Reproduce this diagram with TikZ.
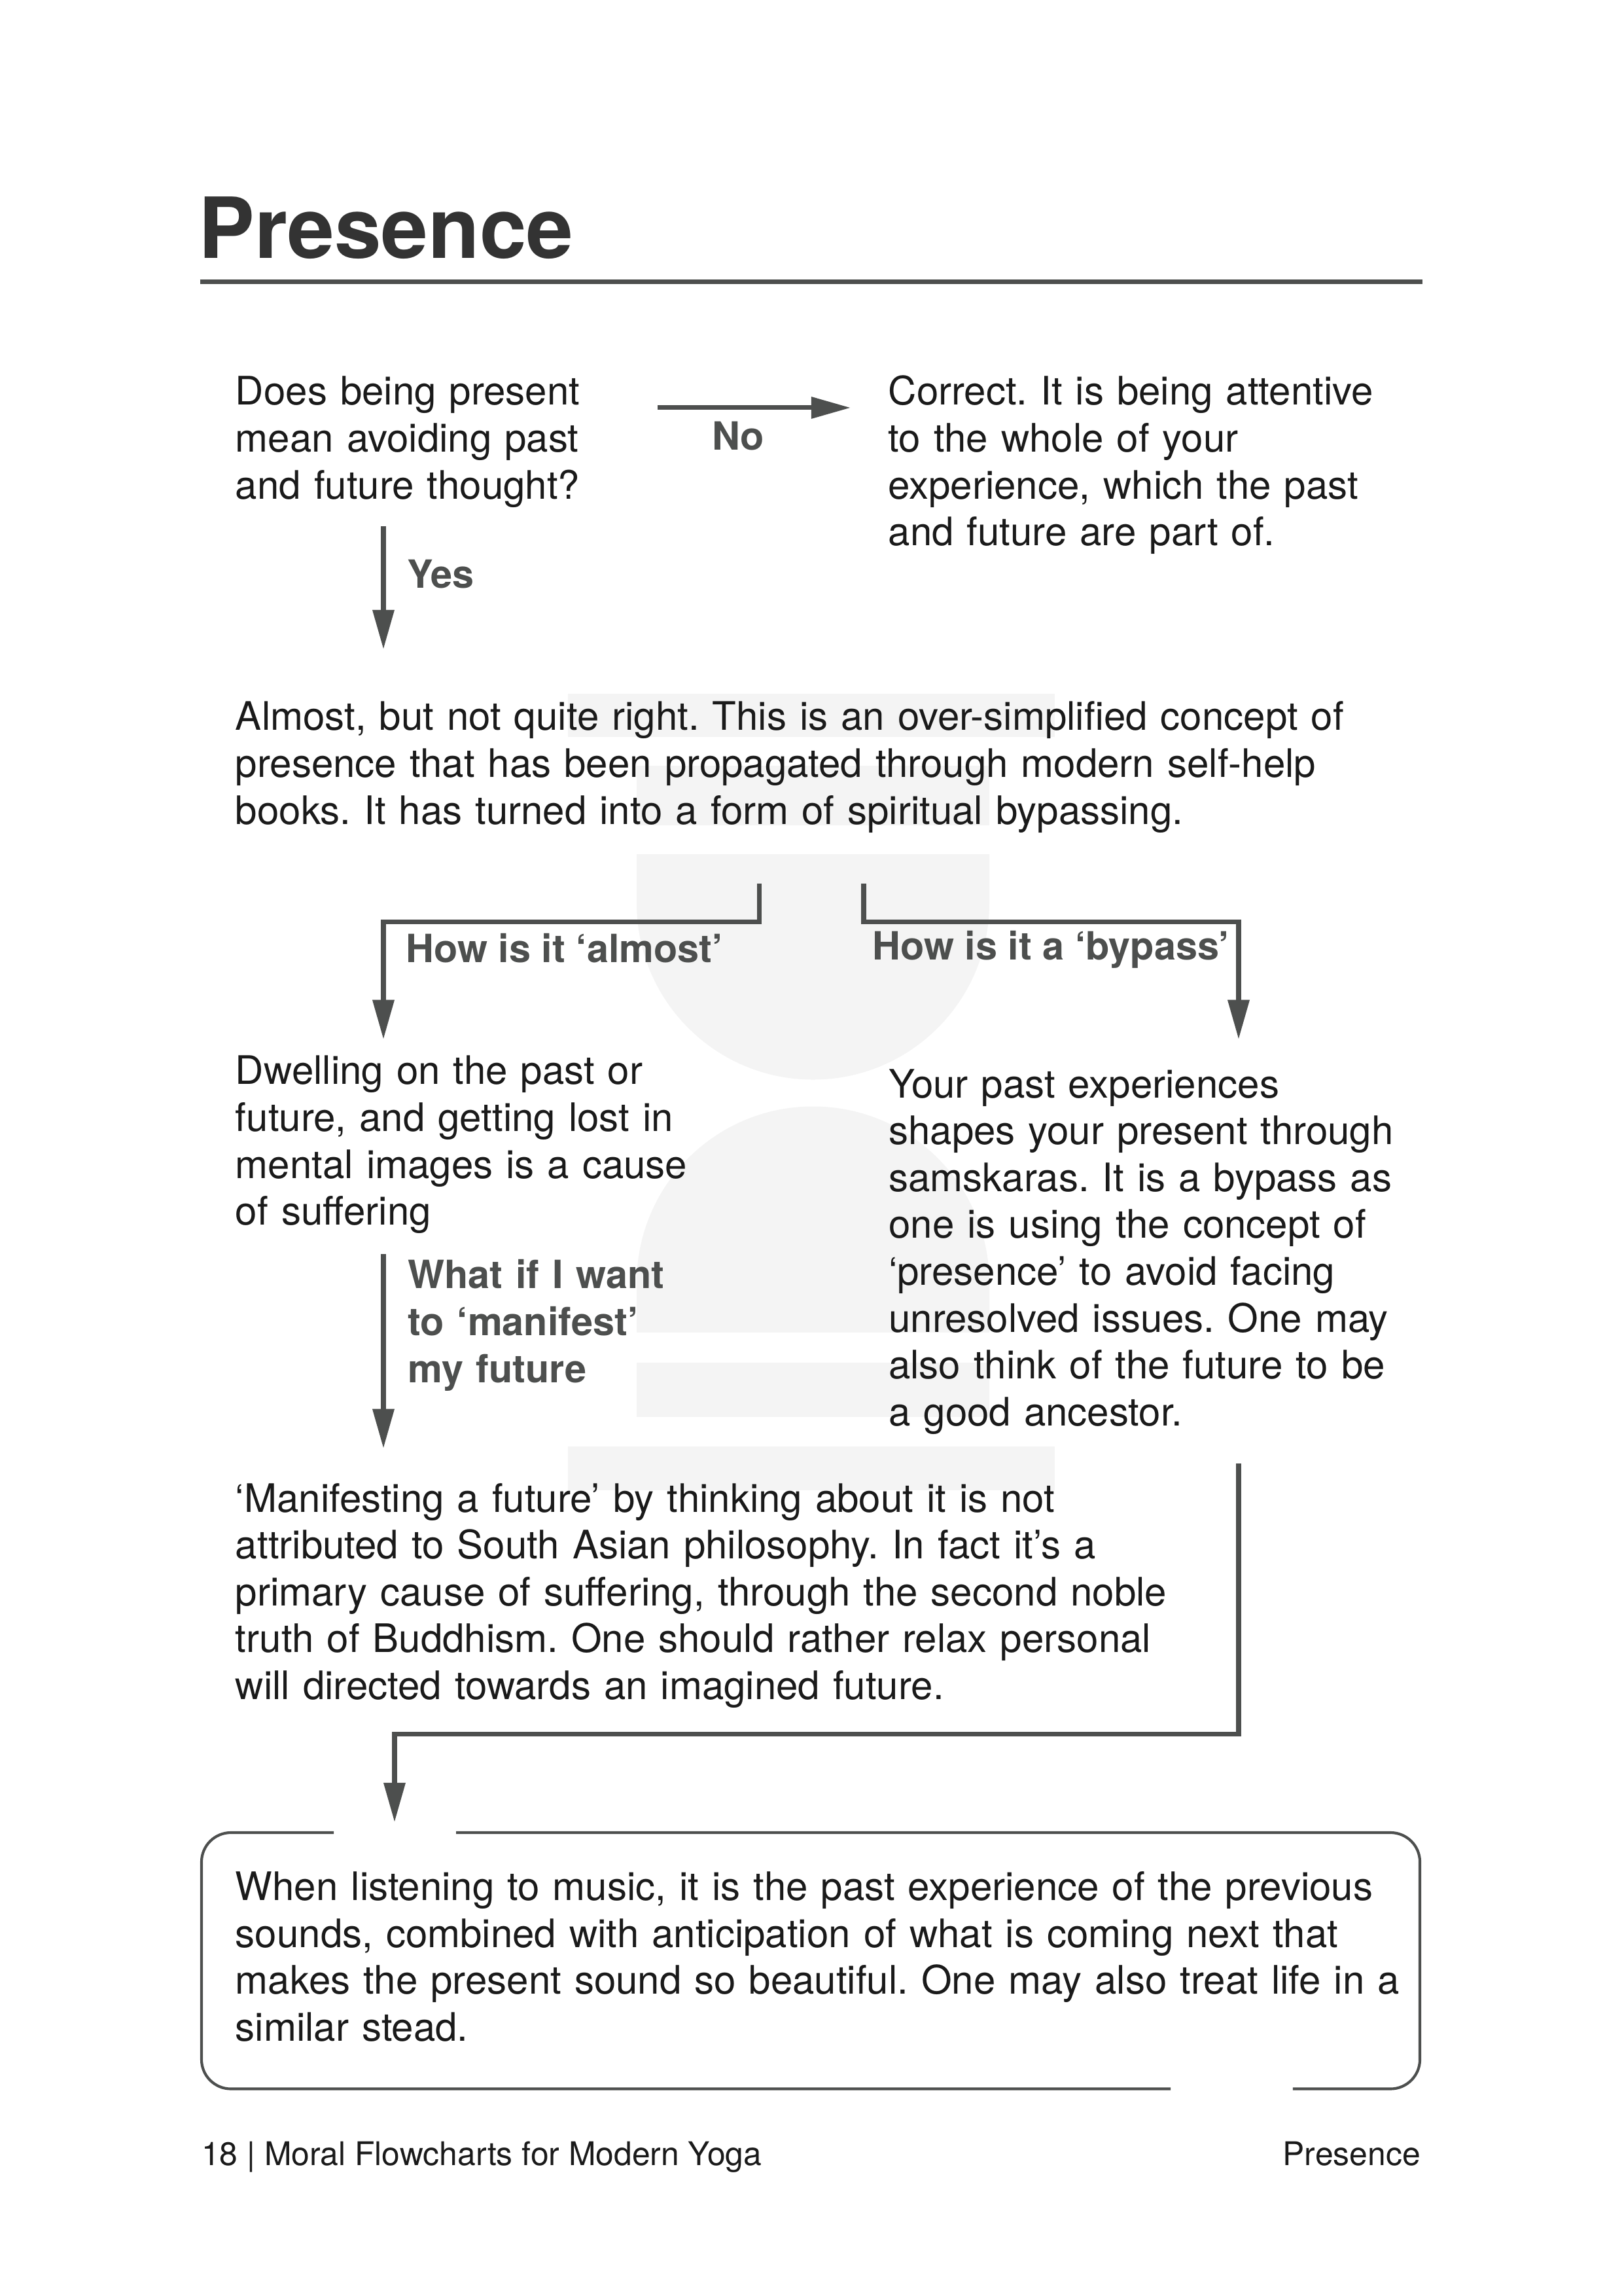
\documentclass[tikz,border=0pt]{standalone}
\usepackage{fontspec}
\setmainfont{TeX Gyre Heros}
\usepackage{tikz}
\usepackage{xcolor}
\usetikzlibrary{arrows.meta, positioning, calc}
\definecolor{ink}{HTML}{1A1A1A}
\definecolor{arrowgray}{HTML}{4D4F4E}
\definecolor{titlegray}{HTML}{333333}
\definecolor{wmgray}{HTML}{F4F4F4}
\frenchspacing

\begin{document}
\begin{tikzpicture}[
    body/.style={anchor=base west, inner sep=0pt, text width=16cm, align=left, text=ink, font=\fontsize{14.45}{17.25}\selectfont},
    choice/.style={anchor=base west, inner sep=0pt, align=left, text=arrowgray, font=\fontsize{14.3}{17.25}\selectfont\bfseries},
    link/.style={draw=arrowgray, line width=1.7pt, -{Triangle[length=5.1mm, width=2.7mm]}},
    wm/.style={fill=wmgray}
  ]
    \useasboundingbox[fill=white] (0,0) rectangle (21.0,-29.693);

    % faint mark behind the chart
    \fill[wm] (7.347,-8.972) rectangle (13.644,-9.531);
    \fill[wm] (8.236,-9.903) rectangle (12.798,-10.673);
    \fill[wm] (8.236,-11.046) -- (12.798,-11.046) -- (12.798,-11.681) arc[start angle=0, end angle=-180, radius=2.281] -- cycle;
    \fill[wm] (8.236,-17.233) -- (8.236,-16.590) arc[start angle=180, end angle=0, radius=2.281] -- (12.798,-17.233) -- cycle;
    \fill[wm] (8.236,-17.622) rectangle (12.798,-18.325);
    \fill[wm] (7.347,-18.706) rectangle (13.644,-19.273);

    \node[anchor=base west, inner sep=0pt, text=titlegray, font=\fontsize{31}{36}\selectfont\bfseries] (title) at (2.56,-3.335) {Presence};
    \draw[arrowgray, line width=0.06cm] (2.586,-3.644) -- (18.401,-3.644);

    \node[body] (question) at (3.04,-5.239) {Does being present\\mean avoiding past\\and future thought?};
    \node[body] (correct) at (11.485,-5.239) {Correct. It is being attentive\\to the whole of your\\experience, which the past\\and future are part of.};
    \node[body] (almost) at (3.04,-9.446) {Almost, but not quite right. This is an over-simplified concept of\\presence that has been propagated through modern self-help\\books. It has turned into a form of spiritual bypassing.};
    \node[body] (dwell) at (3.04,-14.025) {Dwelling on the past or\\future, and getting lost in\\mental images is a cause\\of suffering};
    \node[body] (bypass) at (11.49,-14.195) {Your past experiences\\shapes your present through\\samskaras. It is a bypass as\\one is using the concept of\\‘presence’ to avoid facing\\unresolved issues. One may\\also think of the future to be\\a good ancestor.};
    \node[body] (manifest) at (3.04,-19.553) {‘Manifesting a future’ by thinking about it is not\\attributed to South Asian philosophy. In fact it’s a\\primary cause of suffering, through the second noble\\truth of Buddhism. One should rather relax personal\\will directed towards an imagined future.};
    \node[body] (music) at (3.04,-24.577) {When listening to music, it is the past experience of the previous\\sounds, combined with anticipation of what is coming next that\\makes the present sound so beautiful. One may also treat life in a\\similar stead.};

    \node[choice, anchor=base] (no) at (9.548,-5.823) {No};
    \node[choice] (yes) at (5.26,-7.601) {Yes};
    \node[choice] (howalmost) at (5.245,-12.443) {How is it ‘almost’};
    \node[choice] (howbypass) at (11.28,-12.409) {How is it a ‘bypass’};
    \node[choice, text width=6cm] (whatif) at (5.27,-16.666) {What if I want\\to ‘manifest’\\my future};

    \coordinate (noA) at (8.507,-5.273);
    \coordinate (noB) at (11.004,-5.273);
    \coordinate (yesA) at (4.96,-6.805);
    \coordinate (yesB) at (4.96,-8.397);
    \coordinate (splitL) at (9.819,-11.427);
    \coordinate (barL) at (4.96,-11.918);
    \coordinate (endL) at (4.96,-13.441);
    \coordinate (splitR) at (11.173,-11.427);
    \coordinate (barR) at (16.023,-11.918);
    \coordinate (endR) at (16.023,-13.441);
    \coordinate (manA) at (4.96,-16.218);
    \coordinate (manB) at (4.96,-18.731);
    \coordinate (joinA) at (16.023,-18.926);
    \coordinate (joinBar) at (5.104,-22.430);
    \coordinate (joinB) at (5.104,-23.565);

    \draw[link] (noA) -- (noB);
    \draw[link] (yesA) -- (yesB);
    \draw[link] (splitL) |- (barL) -- (endL);
    \draw[link] (splitR) |- (barR) -- (endR);
    \draw[link] (manA) -- (manB);
    \draw[link] (joinA) |- (joinBar) -- (joinB);

    \draw[arrowgray, line width=1pt, rounded corners=3.8mm] (5.900,-23.700) -- (18.368,-23.700) -- (18.368,-27.014) -- (16.725,-27.014);
    \draw[arrowgray, line width=1pt, rounded corners=3.8mm] (15.143,-27.014) -- (2.607,-27.014) -- (2.607,-23.700) -- (4.317,-23.700);

    \node[anchor=base west, inner sep=0pt, text=ink, font=\fontsize{12}{14}\selectfont] (pageinfo) at (2.60,-28.0) {18 | Moral Flowcharts for Modern Yoga};
    \node[anchor=base east, inner sep=0pt, text=ink, font=\fontsize{12}{14}\selectfont] (chapter) at (18.38,-28.0) {Presence};
  \end{tikzpicture}
\end{document}
